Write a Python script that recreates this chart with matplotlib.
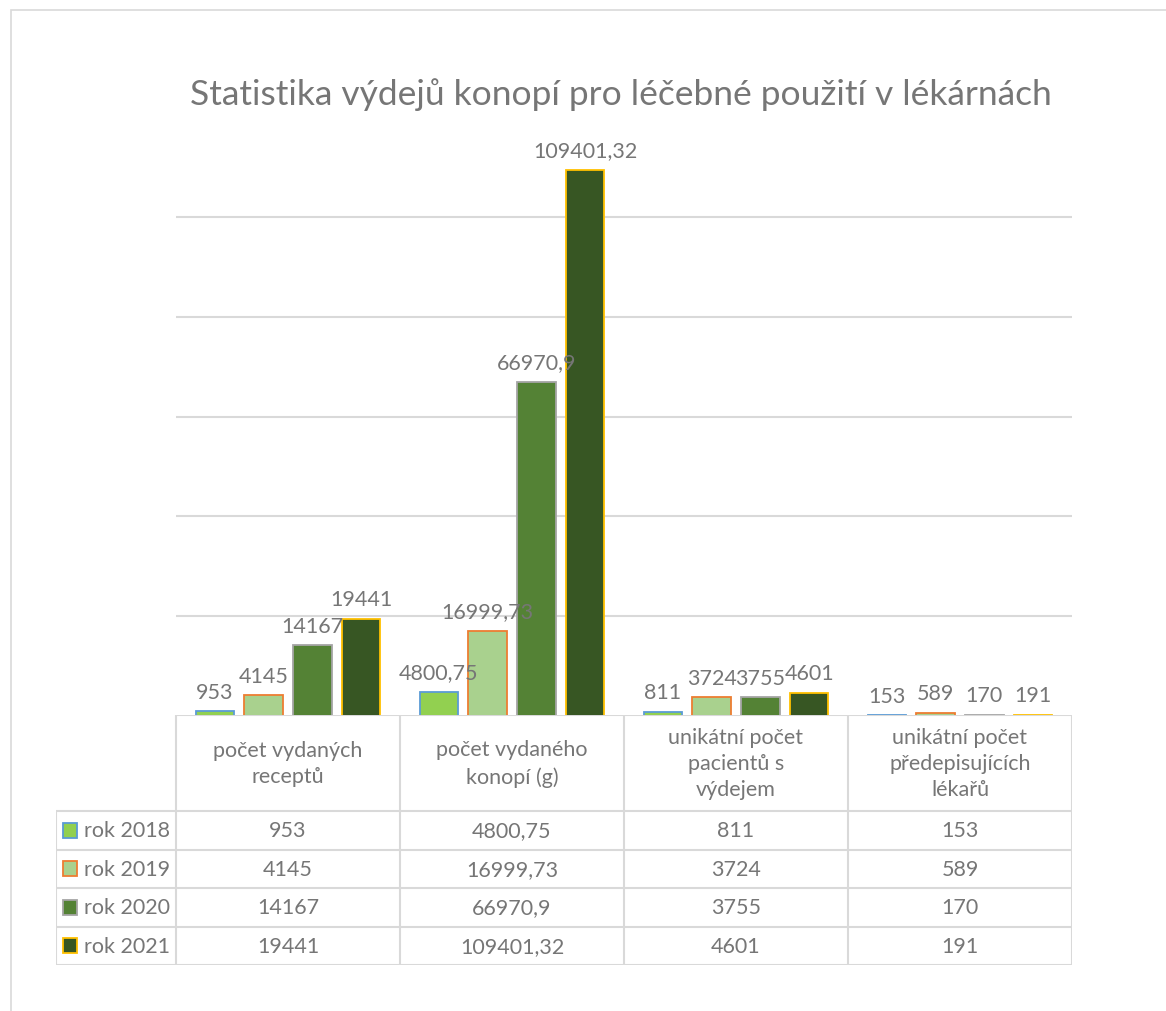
import matplotlib.pyplot as plt
from matplotlib.patches import Rectangle
from matplotlib.lines import Line2D
import numpy as np

# === Data ===
categories = ['počet vydaných\nreceptů', 'počet vydaného\nkonopí (g)',
              'unikátní počet\npacientů s\nvýdejem', 'unikátní počet\npředepisujících\nlékařů']
years = ['rok 2018', 'rok 2019', 'rok 2020', 'rok 2021']
rok_2018 = [953, 4800.75, 811, 153]
rok_2019 = [4145, 16999.73, 3724, 589]
rok_2020 = [14167, 66970.9, 3755, 170]
rok_2021 = [19441, 109401.32, 4601, 191]
series = [rok_2018, rok_2019, rok_2020, rok_2021]

fills = ['#92D050', '#A9D18E', '#548235', '#375623']
edges = ['#5B9BD5', '#ED7D31', '#A5A5A5', '#FFC000']
txt = '#767676'
line_c = '#D9D9D9'
fs = 15.5

plt.rcParams['font.family'] = ['Lato', 'DejaVu Sans']


def fmt(v):
    s = ('%.2f' % v).rstrip('0').rstrip('.')
    return s.replace('.', ',')


W, H = 1166, 1012
fig = plt.figure(figsize=(W / 100, H / 100), dpi=100)

# outer chart border (only top / left visible in the crop)
fig.patches.append(Rectangle((11 / W, -0.1), 1.2, 1 - 11 / H + 0.1, transform=fig.transFigure,
                             fill=False, edgecolor=line_c, linewidth=1.2))

# === Bars ===
ax = fig.add_axes([176 / W, 1 - 717 / H, 896 / W, 599 / H])
x = np.arange(len(categories))
pitch = 0.2175
for i, vals in enumerate(series):
    bars = ax.bar(x + (i - 1.5) * pitch, vals, width=0.172, color=fills[i],
                  edgecolor=edges[i], linewidth=1.3, zorder=3)
    ax.bar_label(bars, labels=[fmt(v) for v in vals], padding=7, color=txt,
                 fontsize=fs, zorder=6)

ax.set_xlim(-0.5, 3.5)
ax.set_ylim(0, 120000)
ax.set_yticks([20000, 40000, 60000, 80000, 100000])
ax.yaxis.grid(True, color=line_c, linewidth=1.5)
ax.set_axisbelow(True)
ax.tick_params(left=False, bottom=False, labelleft=False, labelbottom=False)
for sp in ax.spines.values():
    sp.set_visible(False)

fig.text(621 / W, 1 - 95 / H, 'Statistika výdejů konopí pro léčebné použití v lékárnách',
         ha='center', va='center', fontsize=25.5, color=txt)

# === Data table ===
hdr = 96 / 38.5
tx0 = -0.5 - 120 / 224
tab = fig.add_axes([56 / W, 1 - 966 / H, 1016 / W, 250 / H])
tab.set_xlim(tx0, 3.5)
tab.set_ylim(hdr + len(years), 0)
tab.axis('off')

lk = dict(color=line_c, linewidth=1.5, solid_capstyle='butt')
tab.add_line(Line2D([-0.5, 3.5], [0, 0], **lk))
for r in range(len(years) + 1):
    tab.add_line(Line2D([tx0, 3.5], [hdr + r, hdr + r], **lk))
tab.add_line(Line2D([tx0, tx0], [hdr, hdr + len(years)], **lk))
for c in range(len(categories) + 1):
    tab.add_line(Line2D([c - 0.5, c - 0.5], [0, hdr + len(years)], **lk))

for c, name in enumerate(categories):
    tab.text(c, hdr / 2, name, ha='center', va='center', fontsize=fs, color=txt,
             linespacing=1.4)

for r, (yr, vals) in enumerate(zip(years, series)):
    yc = hdr + r + 0.5
    tab.add_patch(Rectangle((-1.004, yc - 0.19), 0.064, 0.38, facecolor=fills[r],
                            edgecolor=edges[r], linewidth=1.3))
    tab.text(-0.911, yc, yr, ha='left', va='center', fontsize=fs, color=txt)
    for c, v in enumerate(vals):
        tab.text(c, yc, fmt(v), ha='center', va='center', fontsize=fs, color=txt)

fig.savefig('out.png', dpi=100)
